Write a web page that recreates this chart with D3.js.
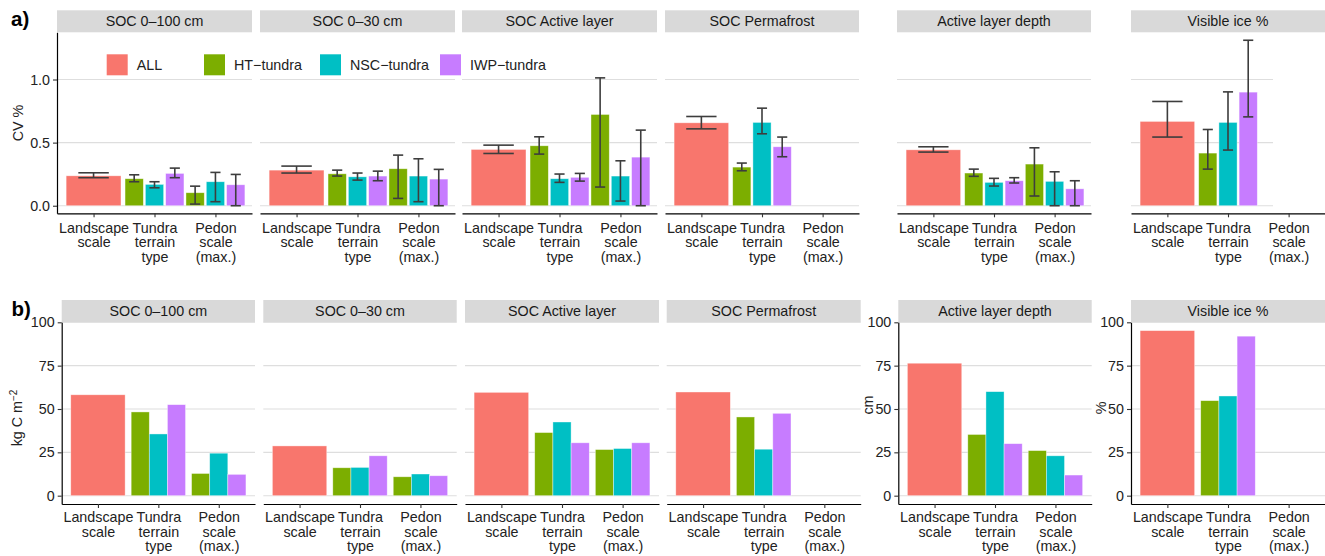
<!DOCTYPE html>
<html>
<head>
<meta charset="utf-8">
<script src="https://cdn.jsdelivr.net/npm/d3@7"></script>
<style>
  body { margin: 0; background: #fff; }
  svg text { font-family: "Liberation Sans", Arial, Helvetica, sans-serif; }
</style>
</head>
<body>
<svg id="chart" width="1325" height="556"></svg>
<script>
// ---- data ---------------------------------------------------------------
const facets = ["SOC 0–100 cm", "SOC 0–30 cm", "SOC Active layer", "SOC Permafrost", "Active layer depth", "Visible ice %"];
const scaleLevels = ["Landscape\nscale", "Tundra\nterrain\ntype", "Pedon\nscale\n(max.)"];
const groups = ["ALL", "HT−tundra", "NSC−tundra", "IWP−tundra"];
const groupColors = ["#F8766D", "#7CAE00", "#00BFC4", "#C77CFF"];

// bar order inside each facet:
// [landscape ALL, tundra HT, tundra NSC, tundra IWP, pedon HT, pedon NSC, pedon IWP]
const cvMean = [
  [0.237, 0.214, 0.169, 0.256, 0.103, 0.190, 0.166],
  [0.282, 0.253, 0.229, 0.235, 0.293, 0.235, 0.211],
  [0.446, 0.475, 0.214, 0.225, 0.723, 0.235, 0.385],
  [0.657, 0.306, 0.660, 0.467, null, null, null],
  [0.443, 0.259, 0.185, 0.198, 0.330, 0.193, 0.134],
  [0.668, 0.417, 0.660, 0.900, null, null, null]
];
const cvLow = [
  [0.222, 0.190, 0.142, 0.222, 0.013, 0.032, 0.000],
  [0.259, 0.235, 0.203, 0.198, 0.058, 0.032, 0.000],
  [0.414, 0.409, 0.185, 0.195, 0.148, 0.037, 0.000],
  [0.609, 0.277, 0.570, 0.388, null, null, null],
  [0.425, 0.233, 0.156, 0.180, 0.077, 0.000, 0.000],
  [0.544, 0.290, 0.441, 0.704, null, null, null]
];
const cvHigh = [
  [0.261, 0.245, 0.190, 0.298, 0.155, 0.264, 0.248],
  [0.314, 0.282, 0.259, 0.274, 0.401, 0.372, 0.288],
  [0.480, 0.546, 0.251, 0.256, 1.013, 0.356, 0.599],
  [0.707, 0.338, 0.773, 0.544, null, null, null],
  [0.467, 0.290, 0.217, 0.222, 0.459, 0.269, 0.198],
  [0.826, 0.604, 0.902, 1.311, null, null, null]
];
const meanValue = [
  [58.2, 48.3, 35.6, 52.5, 12.8, 24.5, 12.3],
  [28.7, 16.1, 16.3, 23.0, 10.9, 12.5, 11.5],
  [59.6, 36.4, 42.5, 30.5, 26.6, 27.2, 30.5],
  [59.8, 45.4, 26.8, 47.5, null, null, null],
  [76.4, 35.3, 60.0, 30.0, 26.0, 23.0, 11.9],
  [95.2, 54.8, 57.5, 92.0, null, null, null]
];
const cvTicks = [0, 0.5, 1.0];
const valueTicks = [0, 25, 50, 75, 100];

// ---- layout -------------------------------------------------------------
const FONT = 14.3;
const TEXT = "#222";
const svg = d3.select("#chart");

const rows = [
  {
    mean: cvMean, low: cvLow, high: cvHigh,
    stripTop: 10.3, plotTop: 32.3, plotBottom: 213.3,
    domain: [-0.06, 1.374], ticks: cvTicks, fmt: d3.format(".1f"),
    dodge: 1.0, yAxisAt: [0], labelOffset: 19.5,
    panelsX: [[57, 252], [260, 455], [462, 657], [665, 859], [897, 1091], [1131, 1325]]
  },
  {
    mean: meanValue, low: null, high: null,
    stripTop: 300, plotTop: 322.3, plotBottom: 504,
    domain: [-4.8, 100], ticks: valueTicks, fmt: d3.format("d"),
    dodge: 0.9, yAxisAt: [0, 4, 5], labelOffset: 18,
    panelsX: [[61.7, 255], [263.3, 456.7], [465, 659], [666.7, 860.7], [898.3, 1091.7], [1131, 1325]]
  }
];

// position of bar k within its facet (category, dodge slot, width, cap)
function barSlot(k, dodge) {
  if (k === 0) return { cat: 0, off: 0, w: 0.9, cap: 0.5, color: 0 };
  const j = (k - 1) % 3;
  return { cat: k <= 3 ? 1 : 2, off: (j - 1) * dodge / 3, w: 0.3, cap: 0.5 / 3, color: j + 1 };
}

rows.forEach((r, ri) => {
  facets.forEach((name, p) => {
    const [x0, x1] = r.panelsX[p];
    const g = svg.append("g");
    const x = d3.scalePoint().domain(scaleLevels).range([x0, x1]).padding(0.6);
    const step = x.step();
    const y = d3.scaleLinear().domain(r.domain).range([r.plotBottom, r.plotTop]);

    // horizontal grid
    g.selectAll("line.grid").data(r.ticks).join("line")
      .attr("class", "grid")
      .attr("x1", x0).attr("x2", x1)
      .attr("y1", d => y(d)).attr("y2", d => y(d))
      .attr("stroke", "#dedede").attr("stroke-width", 1.1);

    // empty area at the right end of the upper ice panel
    if (ri === 0 && p === 5) {
      g.append("rect").attr("x", 1273).attr("y", r.plotTop)
        .attr("width", x1 - 1273).attr("height", r.plotBottom - r.plotTop - 2)
        .attr("fill", "#fff");
    }

    // facet strip
    g.append("rect")
      .attr("x", x0).attr("y", r.stripTop)
      .attr("width", x1 - x0).attr("height", r.plotTop - r.stripTop)
      .attr("fill", "#d9d9d9");
    g.append("text")
      .attr("x", (x0 + x1) / 2).attr("y", (r.stripTop + r.plotTop) / 2 + 5)
      .attr("text-anchor", "middle").attr("font-size", FONT).attr("fill", "#1a1a1a")
      .text(name);

    // bars
    const items = r.mean[p].map((v, k) => ({ k, v, s: barSlot(k, r.dodge),
      lo: r.low ? r.low[p][k] : null, hi: r.high ? r.high[p][k] : null }))
      .filter(d => d.v != null);

    const cx = d => x(scaleLevels[d.s.cat]) + d.s.off * step;
    g.selectAll("rect.bar").data(items).join("rect")
      .attr("class", "bar")
      .attr("x", d => cx(d) - d.s.w * step / 2)
      .attr("width", d => d.s.w * step)
      .attr("y", d => y(d.v))
      .attr("height", d => y(0) - y(d.v))
      .attr("fill", d => groupColors[d.s.color])
      .attr("stroke", "#fff").attr("stroke-opacity", 0.55).attr("stroke-width", 0.7);

    // error bars
    if (r.low) {
      const eb = g.selectAll("g.eb").data(items.filter(d => d.lo != null)).join("g")
        .attr("class", "eb").attr("stroke", "#3d3d3d").attr("stroke-width", 1.6);
      eb.append("line").attr("x1", cx).attr("x2", cx)
        .attr("y1", d => y(d.lo)).attr("y2", d => y(d.hi));
      eb.append("line").attr("x1", d => cx(d) - d.s.cap * step / 2).attr("x2", d => cx(d) + d.s.cap * step / 2)
        .attr("y1", d => y(d.hi)).attr("y2", d => y(d.hi));
      eb.append("line").attr("x1", d => cx(d) - d.s.cap * step / 2).attr("x2", d => cx(d) + d.s.cap * step / 2)
        .attr("y1", d => y(d.lo)).attr("y2", d => y(d.lo));
    }

    // x axis
    const xa = g.append("g").attr("transform", `translate(0,${r.plotBottom})`)
      .call(d3.axisBottom(x).tickSize(4).tickSizeOuter(0).tickFormat(""));
    xa.select(".domain").attr("stroke", "#000").attr("stroke-width", 1.2);
    xa.selectAll(".tick line").attr("stroke", "#333").attr("stroke-width", 1.1);
    xa.selectAll(".tick text").remove();
    xa.selectAll(".tick").append("text")
      .attr("text-anchor", "middle").attr("font-size", FONT).attr("fill", TEXT)
      .attr("font-family", "Liberation Sans, Arial, sans-serif")
      .each(function (d) {
        const t = d3.select(this);
        d.split("\n").forEach((line, i) => {
          t.append("tspan").attr("x", 0)
            .attr("y", r.labelOffset + i * 14.7)
            .text(line);
        });
      });

    // y axis
    if (r.yAxisAt.includes(p)) {
      const ya = g.append("g").attr("transform", `translate(${x0},0)`)
        .call(d3.axisLeft(y).tickValues(r.ticks).tickFormat(r.fmt).tickSize(4).tickPadding(3).tickSizeOuter(0));
      ya.select(".domain").attr("stroke", "#000").attr("stroke-width", 1.2);
      ya.selectAll(".tick line").attr("stroke", "#333").attr("stroke-width", 1.1);
      ya.selectAll(".tick text").attr("font-size", FONT).attr("fill", TEXT)
        .attr("font-family", "Liberation Sans, Arial, sans-serif");
    }
  });
});

// axis titles
function yTitle(xPos, yPos, parts) {
  const t = svg.append("text")
    .attr("transform", `translate(${xPos},${yPos}) rotate(-90)`)
    .attr("text-anchor", "middle").attr("font-size", FONT).attr("fill", TEXT);
  parts.forEach(([txt, sup]) => {
    const s = t.append("tspan").text(txt);
    if (sup) s.attr("font-size", 10).attr("dy", -5);
  });
}
yTitle(23, 123, [["CV %"]]);
yTitle(22.3, 418, [["kg C m"], ["−2", true]]);
yTitle(872.5, 405, [["cm"]]);
yTitle(1106, 408, [["%"]]);

// panel tags
svg.append("text").attr("x", 11).attr("y", 26).attr("font-size", 20.5)
  .attr("font-weight", "bold").attr("fill", "#000").text("a)");
svg.append("text").attr("x", 11.5).attr("y", 316).attr("font-size", 20.5)
  .attr("font-weight", "bold").attr("fill", "#000").text("b)");

// legend
const legendKeyX = [106.7, 204, 320, 440];
const legend = svg.append("g").selectAll("g").data(groups).join("g")
  .attr("transform", (d, i) => `translate(${legendKeyX[i]},54.3)`);
legend.append("rect").attr("width", 21).attr("height", 21)
  .attr("fill", (d, i) => groupColors[i]);
legend.append("text").attr("x", 30).attr("y", 15.7)
  .attr("font-size", FONT).attr("fill", TEXT).text(d => d);
</script>
</body>
</html>
